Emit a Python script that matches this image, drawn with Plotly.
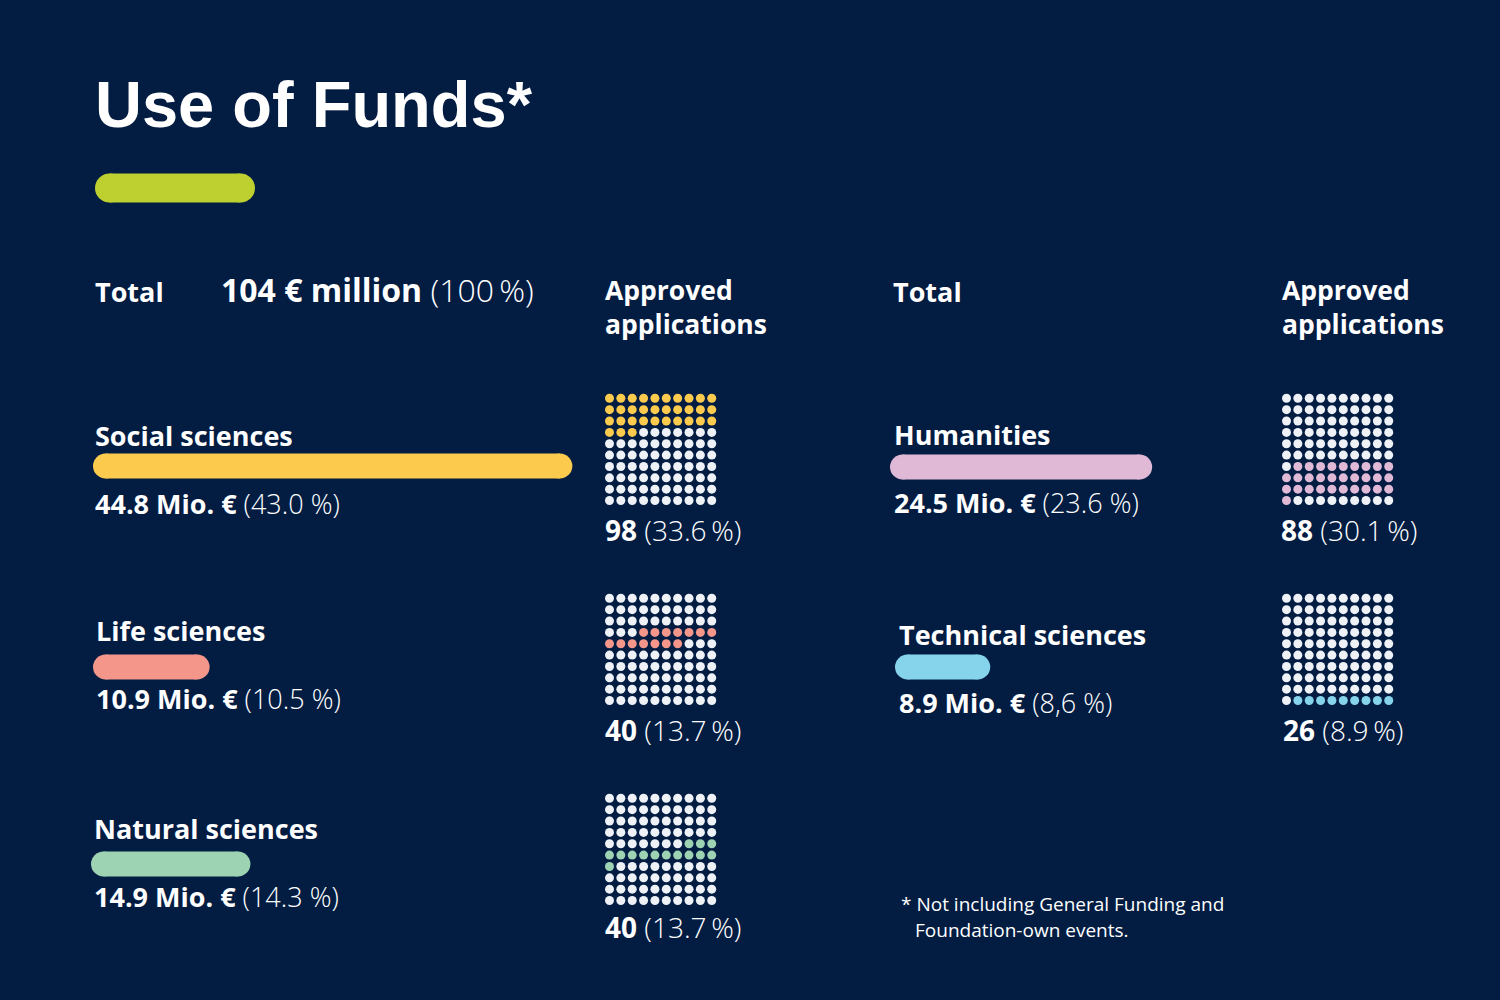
import plotly.graph_objects as go

# ---------------- data ----------------
categories = ["Social sciences", "Life sciences", "Natural sciences", "Humanities", "Technical sciences"]
funds_mio = [44.8, 10.9, 14.9, 24.5, 8.9]
funds_pct_labels = ["43.0", "10.5", "14.3", "23.6", "8,6"]
applications = [98, 40, 40, 88, 26]
applications_pct = [33.6, 13.7, 13.7, 30.1, 8.9]
waffle_dots = [33, 14, 14, 30, 9]
total_funds = 104
total_pct = 100
colors = ["#fccb4e", "#f4968a", "#9dd2b3", "#e0b9d7", "#86d4ec"]

# ---------------- layout constants ----------------
W, H = 1500, 1000
BG = "#021c42"
DOT_WHITE = "#eef1f6"
FONT = "Open Sans"
bar_x0 = [93, 93, 91, 890, 895]
bar_y = [466, 667, 864, 467, 667]
label_x = [95, 96, 94, 894, 899]
name_y = [435, 630, 828, 434, 634]
value_y = [503, 698, 896, 502, 702]
grid_x0 = [609.5, 609.5, 609.5, 1286.5, 1286.5]
grid_y0 = [398.3, 598.3, 798.3, 398.3, 598.3]
grid_step = 11.36
app_label_x = [605, 605, 605, 1281, 1283]
app_label_y = [530, 730, 927, 530, 730]
PX_PER_MIO = 10.7
BAR_H = 25
AXIS_MAX = 50

fig = go.Figure()
annotations = []


def light(s):
    return f'<span style="font-weight:300">{s}</span>'


def add_text(x, y, text, size=27, color="white", family=FONT):
    annotations.append(dict(
        x=x, y=y, xref="x", yref="y", text=text, showarrow=False,
        xanchor="left", yanchor="middle", align="left", borderpad=0, borderwidth=0,
        font=dict(family=family, size=size, color=color)))


# title + accent
add_text(95, 104, "<b>Use of Funds*</b>", size=65, family="Liberation Sans")
fig.add_trace(go.Scatter(x=[95 + 14.5, 255 - 14.5], y=[188, 188], mode="lines+markers",
                         line=dict(color="#bdd030", width=29),
                         marker=dict(color="#bdd030", size=29, line=dict(width=0)),
                         hoverinfo="skip", showlegend=False))

# headers
add_text(95, 291, "<b>Total</b>")
add_text(221, 289, f"<b>{total_funds} € million</b> " + light(f"({total_pct}\u2009%)"), size=32)
add_text(605, 307, "<b>Approved<br>applications</b>", size=26.5)
add_text(893, 291, "<b>Total</b>")
add_text(1282, 307, "<b>Approved<br>applications</b>", size=26.5)

# bars (pill shaped) on per-category value axes
for i, (cat, v) in enumerate(zip(categories, funds_mio)):
    ax = f"x{i + 2}"
    r = (BAR_H / 2) / PX_PER_MIO
    fig.add_trace(go.Scatter(x=[r, v - r], y=[bar_y[i], bar_y[i]], xaxis=ax, yaxis="y",
                             mode="lines+markers",
                             line=dict(color=colors[i], width=BAR_H),
                             marker=dict(color=colors[i], size=BAR_H, line=dict(width=0)),
                             hoverinfo="skip", showlegend=False))
    add_text(label_x[i], name_y[i], f"<b>{cat}</b>")
    add_text(label_x[i], value_y[i], f"<b>{v} Mio. €</b> " + light(f"({funds_pct_labels[i]} %)"))

# waffle grids (cumulative fill across the five grids)
offset = 0
for i in range(len(categories)):
    wx, wy, cx, cy = [], [], [], []
    for idx in range(100):
        row, col = divmod(idx, 10)
        px = grid_x0[i] + col * grid_step
        py = grid_y0[i] + row * grid_step
        if offset <= idx < offset + waffle_dots[i]:
            cx.append(px); cy.append(py)
        else:
            wx.append(px); wy.append(py)
    offset += waffle_dots[i]
    fig.add_trace(go.Scatter(x=wx, y=wy, mode="markers",
                             marker=dict(color=DOT_WHITE, size=9, line=dict(width=0)),
                             hoverinfo="skip", showlegend=False))
    fig.add_trace(go.Scatter(x=cx, y=cy, mode="markers",
                             marker=dict(color=colors[i], size=9, line=dict(width=0)),
                             hoverinfo="skip", showlegend=False))
    add_text(app_label_x[i], app_label_y[i],
             f"<b>{applications[i]}</b> " + light(f"({applications_pct[i]}\u2009%)"), size=28)

# footnote
add_text(901, 904, "* Not including General Funding and", size=19)
add_text(915, 930, "Foundation-own events.", size=19)

layout_axes = dict(
    xaxis=dict(range=[0, W], visible=False, fixedrange=True, domain=[0, 1]),
    yaxis=dict(range=[H, 0], visible=False, fixedrange=True, domain=[0, 1]),
)
for i in range(len(categories)):
    d0 = bar_x0[i] / W
    d1 = (bar_x0[i] + AXIS_MAX * PX_PER_MIO) / W
    layout_axes[f"xaxis{i + 2}"] = dict(range=[0, AXIS_MAX], domain=[d0, d1], anchor="y",
                                        visible=False, fixedrange=True)

fig.update_layout(
    width=W, height=H, margin=dict(l=0, r=0, t=0, b=0),
    paper_bgcolor=BG, plot_bgcolor="rgba(0,0,0,0)",
    annotations=annotations, showlegend=False,
    **layout_axes,
)

fig.write_html("out.html", config={"displayModeBar": False},
               post_script="document.body.style.margin='0';")
